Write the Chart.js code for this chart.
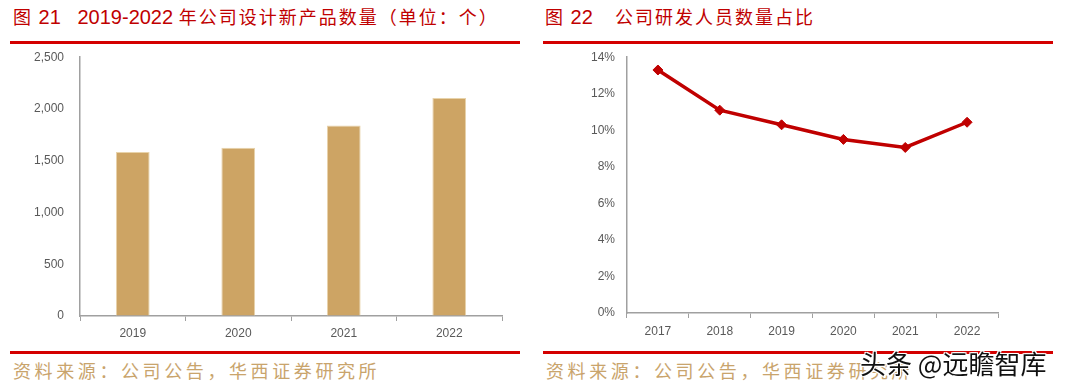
<!DOCTYPE html>
<html><head><meta charset="utf-8">
<script src="https://cdn.jsdelivr.net/npm/chart.js@4.4.0/dist/chart.umd.min.js"></script>
<style>
html,body{margin:0;padding:0;background:#fff;width:1080px;height:387px;overflow:hidden;position:relative;font-family:"Noto Sans CJK SC",sans-serif;}
.title{position:absolute;top:4px;color:#C00000;font-size:18px;letter-spacing:2px;white-space:nowrap;line-height:24px;}
.title .num{font-family:"Liberation Sans",sans-serif;letter-spacing:0;font-size:20px;}
.rule{position:absolute;height:3px;background:#D40000;}
.src{position:absolute;top:359px;color:#C9A46C;font-size:18px;letter-spacing:3.6px;white-space:nowrap;line-height:22px;}
.wm{position:absolute;left:860px;top:344px;font-size:26px;color:#111;white-space:nowrap;letter-spacing:0px;
 text-shadow:-1px -1px 0 #fff,1px -1px 0 #fff,-1px 1px 0 #fff,1px 1px 0 #fff,0 0 2px #fff;}
.cw{position:absolute;}
</style></head>
<body>
<div class="title" style="left:13px"><span>图</span><span class="num"> 21 &nbsp;&nbsp;2019-2022 </span>年公司设计新产品数量（单位：个）</div>
<div class="title" style="left:545px"><span>图</span><span class="num"> 22 &nbsp;&nbsp;&nbsp;</span>公司研发人员数量占比</div>
<div class="rule" style="left:10px;top:41px;width:510px"></div>
<div class="rule" style="left:543px;top:41px;width:510px"></div>
<div class="rule" style="left:10px;top:351px;width:510px"></div>
<div class="rule" style="left:543px;top:351px;width:510px"></div>
<div class="src" style="left:13px">资料来源：公司公告，华西证券研究所</div>
<div class="src" style="left:546px">资料来源：公司公告，华西证券研究所</div>
<div class="cw" style="left:0;top:34px;width:530px;height:312px"><canvas id="c1"></canvas></div>
<div class="cw" style="left:540px;top:38px;width:520px;height:308px"><canvas id="c2"></canvas></div>
<div class="wm">头条 @远瞻智库</div>
<script>
const years1 = ['2019','2020','2021','2022'];
const newProducts = [1585, 1626, 1840, 2107];
const years2 = ['2017','2018','2019','2020','2021','2022'];
const rdStaffShare = [13.3, 11.1, 10.3, 9.5, 9.06, 10.44];
const yTicks1 = [0, 500, 1000, 1500, 2000, 2500];
const yTicks2 = [0, 2, 4, 6, 8, 10, 12, 14];

const tickFont = {family:'"Liberation Sans", sans-serif', size:12};
const tickColor = '#595959';
const axisColor = '#A0A0A0';

new Chart(document.getElementById('c1'), {
  type:'bar',
  data:{labels:years1, datasets:[{data:newProducts, backgroundColor:'#CDA464', borderColor:'#E8D3AA', borderWidth:{top:1,left:1,right:1,bottom:0}, categoryPercentage:1, barPercentage:0.32}]},
  options:{
    responsive:true, maintainAspectRatio:false, animation:false,
    layout:{padding:{top:10,right:28,left:0,bottom:0}},
    plugins:{legend:{display:false}, tooltip:{enabled:false}},
    scales:{
      x:{grid:{display:true,drawOnChartArea:false,drawTicks:true,tickLength:5,color:axisColor,offset:true},
         border:{display:true,color:axisColor,width:1.5},
         ticks:{color:tickColor,font:tickFont,padding:5},
         afterFit:s=>{s.height=30;}},
      y:{min:0,max:2500,
         afterBuildTicks:s=>{s.ticks=yTicks1.map(v=>({value:v}));},
         grid:{display:true,drawOnChartArea:false,drawTicks:false,color:axisColor},
         border:{display:true,color:axisColor,width:1.5},
         ticks:{color:tickColor,font:tickFont,padding:16,callback:v=>v.toLocaleString('en-US')},
         afterFit:s=>{s.width=80;}}
    }
  }
});

new Chart(document.getElementById('c2'), {
  type:'line',
  data:{labels:years2, datasets:[{data:rdStaffShare, borderColor:'#C00000', backgroundColor:'#C00000', borderWidth:3.5,
    pointStyle:'rectRot', pointRadius:5, pointBorderWidth:1, pointBackgroundColor:'#C00000', pointBorderColor:'#C00000', tension:0}]},
  options:{
    responsive:true, maintainAspectRatio:false, animation:false,
    layout:{padding:{top:10,right:62,left:0,bottom:0}},
    plugins:{legend:{display:false}, tooltip:{enabled:false}},
    scales:{
      x:{offset:true,
         grid:{display:true,drawOnChartArea:false,drawTicks:true,tickLength:5,color:axisColor,offset:true},
         border:{display:true,color:axisColor,width:1.5},
         ticks:{color:tickColor,font:tickFont,padding:6},
         afterFit:s=>{s.height=33;}},
      y:{min:0,max:14,
         afterBuildTicks:s=>{s.ticks=yTicks2.map(v=>({value:v}));},
         grid:{display:true,drawOnChartArea:false,drawTicks:false,color:axisColor},
         border:{display:true,color:axisColor,width:1.5},
         ticks:{color:tickColor,font:tickFont,padding:12,callback:v=>v+'%'},
         afterFit:s=>{s.width=87;}}
    }
  }
});
</script>
</body></html>
